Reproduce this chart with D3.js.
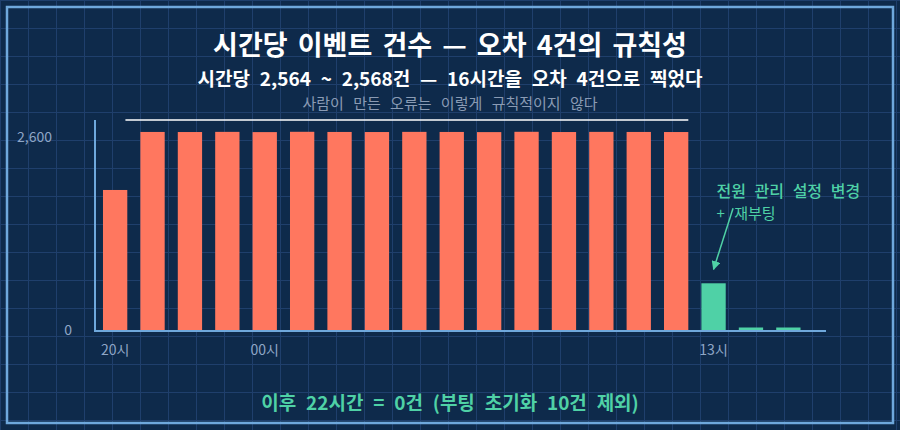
<!DOCTYPE html>
<meta charset="utf-8">
<head>
    <title>시간당 이벤트 건수</title>
    <script src="https://d3js.org/d3.v7.min.js"></script>
    <style>
        body { margin: 0; background: #0e2a4b; }
        text { font-family: "Noto Sans CJK KR", "Noto Sans", sans-serif; }
    </style>
</head>
<body>
<div id="my_dataviz"></div>
<script>

// data
var hours = ["20시","21시","22시","23시","00시","01시","02시","03시","04시","05시",
             "06시","07시","08시","09시","10시","11시","13시","14시","15시"];
var counts = [1818, 2566, 2565, 2567, 2564, 2568, 2566, 2565, 2567, 2566,
              2564, 2568, 2565, 2567, 2566, 2565, 615, 5, 5];
var changeHour = "13시";          // power setting changed + reboot
var shownTicks = ["20시", "00시", "13시"];
var yTicks = [0, 2600];
var stableFrom = "21시", stableTo = "11시";

var W = 900, H = 430;
var coral = "#ff775f", teal = "#4fd1a6", axisCol = "#6fa8dc", tickCol = "#8ea6c6";

var svg = d3.select("#my_dataviz")
    .append("svg")
    .attr("width", W)
    .attr("height", H);

// background grid
svg.append("rect").attr("width", W).attr("height", H).attr("fill", "#0e2a4b");
var grid = svg.append("g").attr("stroke", "#1f3f6c").attr("stroke-width", 1);
d3.range(0, W, 28).forEach(function(gx) {
    grid.append("line").attr("x1", gx + 0.5).attr("x2", gx + 0.5).attr("y1", 0).attr("y2", H);
});
d3.range(0, H, 28).forEach(function(gy) {
    grid.append("line").attr("y1", gy + 0.5).attr("y2", gy + 0.5).attr("x1", 0).attr("x2", W);
});

// frame
svg.append("rect")
    .attr("x", 7).attr("y", 7)
    .attr("width", 886).attr("height", 416)
    .attr("fill", "none")
    .attr("stroke", axisCol)
    .attr("stroke-width", 2.5);

// titles
svg.append("text")
    .attr("x", W / 2).attr("y", 55)
    .attr("text-anchor", "middle")
    .attr("fill", "#ffffff")
    .style("font-size", "27px").style("font-weight", "bold")
    .style("word-spacing", "4px")
    .text("시간당 이벤트 건수 — 오차 4건의 규칙성");
svg.append("text")
    .attr("x", W / 2).attr("y", 86)
    .attr("text-anchor", "middle")
    .attr("fill", "#ffffff")
    .style("font-size", "19px").style("font-weight", "bold")
    .style("word-spacing", "5.5px")
    .text("시간당 2,564 ~ 2,568건 — 16시간을 오차 4건으로 찍었다");
svg.append("text")
    .attr("x", W / 2).attr("y", 109)
    .attr("text-anchor", "middle")
    .attr("fill", "#8a9bb4")
    .style("font-size", "15px")
    .style("word-spacing", "6px")
    .text("사람이 만든 오류는 이렇게 규칙적이지 않다");

// scales
var x = d3.scaleBand()
    .domain(hours)
    .range([95.5, 808])
    .paddingInner(0.35)
    .paddingOuter(0.2);
var y = d3.scaleLinear()
    .domain([0, 2720])
    .range([331, 120]);

// bars
svg.append("g")
    .selectAll("rect")
    .data(hours)
    .enter()
    .append("rect")
        .attr("x", function(d) { return x(d); })
        .attr("width", x.bandwidth())
        .attr("y", function(d, i) { return Math.min(y(counts[i]), y(0) - 3.5); })
        .attr("height", function(d, i) { return Math.max(y(0) - y(counts[i]), 3.5); })
        .attr("fill", function(d, i) { return i >= hours.indexOf(changeHour) ? teal : coral; });

// axes
svg.append("line")
    .attr("x1", 95).attr("x2", 95)
    .attr("y1", y.range()[1]).attr("y2", y(0) + 1)
    .attr("stroke", axisCol).attr("stroke-width", 2);
svg.append("line")
    .attr("x1", 94).attr("x2", 826)
    .attr("y1", y(0)).attr("y2", y(0))
    .attr("stroke", axisCol).attr("stroke-width", 2);

// y labels
svg.append("g")
    .selectAll("text")
    .data(yTicks)
    .enter()
    .append("text")
        .attr("x", function(d) { return d === 0 ? 72 : 52; })
        .attr("y", function(d) { return y(d) + (d === 0 ? 4 : 12.5); })
        .attr("text-anchor", "end")
        .attr("fill", tickCol)
        .style("font-size", "14px")
        .text(function(d) { return d3.format(",")(d); });

// x labels
svg.append("g")
    .selectAll("text")
    .data(shownTicks)
    .enter()
    .append("text")
        .attr("x", function(d) { return x(d) + x.bandwidth() / 2; })
        .attr("y", y(0) + 24)
        .attr("text-anchor", "middle")
        .attr("fill", tickCol)
        .style("font-size", "14px")
        .text(function(d) { return d; });

// line over the stable hours
svg.append("line")
    .attr("x1", x(stableFrom) - x.step() * 0.4)
    .attr("x2", x(stableTo) + x.bandwidth())
    .attr("y1", y.range()[1]).attr("y2", y.range()[1])
    .attr("stroke", "#ffffff").attr("stroke-width", 1.5);

// annotation
var cx = x(changeHour) + x.bandwidth() / 2,
    cy = y(counts[hours.indexOf(changeHour)]) - 14;
svg.append("defs").append("marker")
    .attr("id", "tri")
    .attr("viewBox", "0 0 10 10")
    .attr("refX", 9).attr("refY", 5)
    .attr("markerWidth", 6).attr("markerHeight", 6)
    .attr("markerUnits", "strokeWidth")
    .attr("orient", "auto")
    .append("path")
    .attr("d", "M0,0 L10,5 L0,10 z")
    .attr("fill", teal);
svg.append("line")
    .attr("x1", cx + 19.5).attr("y1", cy - 61)
    .attr("x2", cx).attr("y2", cy)
    .attr("stroke", teal).attr("stroke-width", 1.5)
    .attr("marker-end", "url(#tri)");
svg.append("text")
    .attr("x", cx + 3).attr("y", 197)
    .attr("fill", teal)
    .style("font-size", "16px").style("font-weight", "500")
    .style("word-spacing", "5px")
    .text("전원 관리 설정 변경");
svg.append("text")
    .attr("x", cx + 3).attr("y", 219)
    .attr("fill", teal)
    .style("font-size", "15px")
    .style("word-spacing", "6px")
    .text("+ 재부팅");

// footer
svg.append("text")
    .attr("x", W / 2).attr("y", 410)
    .attr("text-anchor", "middle")
    .attr("fill", teal)
    .style("font-size", "19px").style("font-weight", "bold")
    .style("word-spacing", "5.5px")
    .text("이후 22시간 = 0건 (부팅 초기화 10건 제외)");
</script>
</body>
